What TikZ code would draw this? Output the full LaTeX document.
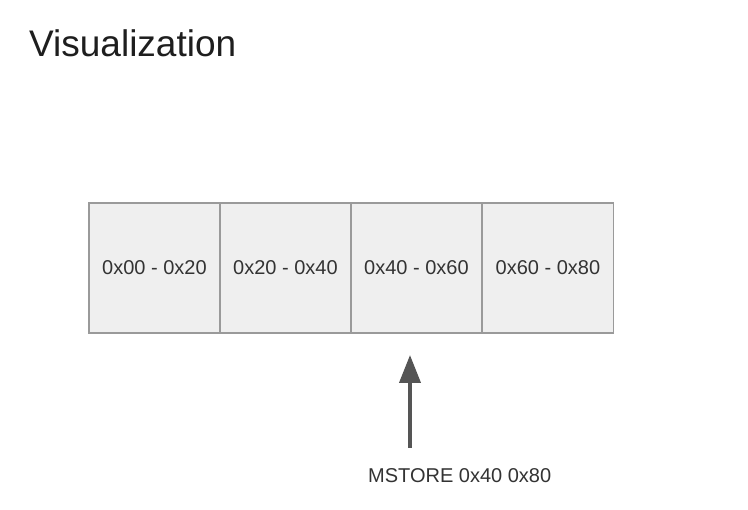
\documentclass[tikz,border=0pt]{standalone}
\usepackage{fontspec}
\setmainfont{Liberation Sans}
\usetikzlibrary{arrows.meta}
\definecolor{cellfill}{HTML}{EFEFEF}
\definecolor{celledge}{HTML}{9A9A9A}
\definecolor{arrowcol}{HTML}{555555}
\definecolor{txtcol}{HTML}{333333}
\definecolor{titlecol}{HTML}{1E1E1E}
\tikzset{
  cell/.style={draw=celledge, fill=cellfill, line width=1.2pt, minimum width=131pt, minimum height=130pt, inner sep=0pt, font=\fontsize{20}{24}\selectfont, text=txtcol},
  pointer/.style={draw=arrowcol, line width=4pt, -{Triangle[width=21pt,length=28pt]}},
}
\begin{document}
\begin{tikzpicture}[x=1pt,y=1pt]
\useasboundingbox (0,0) rectangle (748,-510);
\fill[white] (0,0) rectangle (748,-510);
\node[anchor=base west, text=titlecol, font=\fontsize{37}{44}\selectfont, inner sep=0pt] (title) at (29,-57) {Visualization};
\node[cell] (c1) at (154.5,-268) {0x00 - 0x20};
\node[cell] (c2) at (285.5,-268) {0x20 - 0x40};
\node[cell] (c3) at (416.5,-268) {0x40 - 0x60};
\node[cell] (c4) at (548,-268) {0x60 - 0x80};
\node[anchor=base west, text=txtcol, font=\fontsize{20}{24}\selectfont, inner sep=0pt] (lbl) at (368,-483) {MSTORE 0x40 0x80};
\coordinate (as) at (410,-448);
\coordinate (ae) at (410,-355);
\draw[pointer] (as) -- (ae);
\end{tikzpicture}
\end{document}
